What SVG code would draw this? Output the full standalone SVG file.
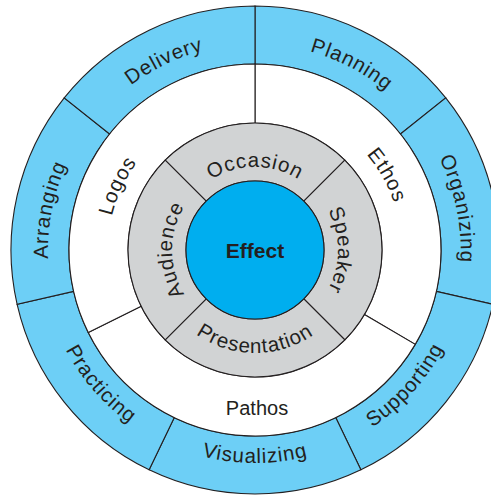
<svg xmlns="http://www.w3.org/2000/svg" width="491" height="495" viewBox="0 0 491 495">
<style>
.blue{fill:#6dcff6;stroke:#231f20;stroke-width:1.1}
.white{fill:#ffffff;stroke:#231f20;stroke-width:1.1}
.gray{fill:#d1d3d4;stroke:#231f20;stroke-width:1.1}
.core{fill:#00aeef;stroke:#231f20;stroke-width:1.1}
.lbl{font-family:"Liberation Sans",Arial,Helvetica,sans-serif;font-size:20.5px;fill:#231f20;letter-spacing:0.9px}
.eff{font-family:"Liberation Sans",Arial,Helvetica,sans-serif;font-size:21px;font-weight:bold;fill:#231f20}
</style>
<defs>
<path id="pPlanning" d="M71.39,154.42 A207,207 0 0 1 438.61,345.58"/>
<path id="pOrganizing" d="M213.73,47.16 A207,207 0 0 1 296.27,452.84"/>
<path id="pArranging" d="M215.50,453.20 A207,207 0 0 1 294.50,46.80"/>
<path id="pDelivery" d="M68.50,339.81 A207,207 0 0 1 441.50,160.19"/>
<path id="pVisualizing" d="M42,250 A213,213 0 0 0 468,250"/>
<path id="pSupporting" d="M111.81,409.03 A214,214 0 0 0 398.19,90.97"/>
<path id="pPracticing" d="M114.60,88.49 A214,214 0 0 0 395.40,411.51"/>
<path id="pLogos" d="M192.87,383.23 A147,147 0 0 1 317.13,116.77"/>
<path id="pEthos" d="M182.61,122.06 A147,147 0 0 1 327.39,377.94"/>
<path id="pOccasion" d="M172,250 A83,83 0 0 1 338,250"/>
<path id="pSpeaker" d="M255,167 A83,83 0 0 1 255,333"/>
<path id="pAudience" d="M255,333 A83,83 0 0 1 255,167"/>
<path id="pPresentation" d="M152,250 A103,103 0 0 0 358,250"/>
</defs>

<g id="planning">
<path class="blue" d="M255,6 A244,244 0 0 1 445.77,97.87 L400.42,134.03 A186,186 0 0 0 255,64 Z"/>
<text class="lbl"><textPath href="#pPlanning" startOffset="50%" text-anchor="middle">Planning</textPath></text>
</g>
<g id="organizing">
<path class="blue" d="M445.77,97.87 A244,244 0 0 1 492.88,304.29 L436.34,291.39 A186,186 0 0 0 400.42,134.03 Z"/>
<text class="lbl"><textPath href="#pOrganizing" startOffset="50%" text-anchor="middle">Organizing</textPath></text>
</g>
<g id="supporting">
<path class="blue" d="M492.88,304.29 A244,244 0 0 1 360.87,469.84 L335.70,417.58 A186,186 0 0 0 436.34,291.39 Z"/>
<text class="lbl"><textPath href="#pSupporting" startOffset="50%" text-anchor="middle">Supporting</textPath></text>
</g>
<g id="visualizing">
<path class="blue" d="M360.87,469.84 A244,244 0 0 1 149.13,469.84 L174.30,417.58 A186,186 0 0 0 335.70,417.58 Z"/>
<text class="lbl"><textPath href="#pVisualizing" startOffset="50%" text-anchor="middle">Visualizing</textPath></text>
</g>
<g id="practicing">
<path class="blue" d="M149.13,469.84 A244,244 0 0 1 17.12,304.29 L73.66,291.39 A186,186 0 0 0 174.30,417.58 Z"/>
<text class="lbl"><textPath href="#pPracticing" startOffset="50%" text-anchor="middle">Practicing</textPath></text>
</g>
<g id="arranging">
<path class="blue" d="M17.12,304.29 A244,244 0 0 1 64.23,97.87 L109.58,134.03 A186,186 0 0 0 73.66,291.39 Z"/>
<text class="lbl"><textPath href="#pArranging" startOffset="50%" text-anchor="middle">Arranging</textPath></text>
</g>
<g id="delivery">
<path class="blue" d="M64.23,97.87 A244,244 0 0 1 255,6 L255,64 A186,186 0 0 0 109.58,134.03 Z"/>
<text class="lbl"><textPath href="#pDelivery" startOffset="50%" text-anchor="middle">Delivery</textPath></text>
</g>

<g id="ethos">
<path class="white" d="M255,64 A186,186 0 0 1 415.26,344.40 L364.43,314.46 A127,127 0 0 0 255,123 Z"/>
<text class="lbl"><textPath href="#pEthos" startOffset="50%" text-anchor="middle">Ethos</textPath></text>
</g>
<g id="pathos">
<path class="white" d="M415.26,344.40 A186,186 0 0 1 88.25,332.41 L141.15,306.27 A127,127 0 0 0 364.43,314.46 Z"/>
<text class="lbl" x="257" y="415" text-anchor="middle" style="letter-spacing:0px;font-size:20px">Pathos</text>
</g>
<g id="logos">
<path class="white" d="M88.25,332.41 A186,186 0 0 1 255,64 L255,123 A127,127 0 0 0 141.15,306.27 Z"/>
<text class="lbl"><textPath href="#pLogos" startOffset="50%" text-anchor="middle">Logos</textPath></text>
</g>

<g id="occasion">
<path class="gray" d="M165.20,160.20 A127,127 0 0 1 344.80,160.20 L303.79,201.21 A69,69 0 0 0 206.21,201.21 Z"/>
<text class="lbl"><textPath href="#pOccasion" startOffset="50%" text-anchor="middle">Occasion</textPath></text>
</g>
<g id="speaker">
<path class="gray" d="M344.80,160.20 A127,127 0 0 1 344.80,339.80 L303.79,298.79 A69,69 0 0 0 303.79,201.21 Z"/>
<text class="lbl"><textPath href="#pSpeaker" startOffset="50%" text-anchor="middle">Speaker</textPath></text>
</g>
<g id="presentation">
<path class="gray" d="M344.80,339.80 A127,127 0 0 1 165.20,339.80 L206.21,298.79 A69,69 0 0 0 303.79,298.79 Z"/>
<text class="lbl"><textPath href="#pPresentation" startOffset="50%" text-anchor="middle">Presentation</textPath></text>
</g>
<g id="audience">
<path class="gray" d="M165.20,339.80 A127,127 0 0 1 165.20,160.20 L206.21,201.21 A69,69 0 0 0 206.21,298.79 Z"/>
<text class="lbl"><textPath href="#pAudience" startOffset="50%" text-anchor="middle">Audience</textPath></text>
</g>

<g id="effect">
<circle class="core" cx="255" cy="250" r="69"/>
<text class="eff" x="255" y="258" text-anchor="middle">Effect</text>
</g>
</svg>
